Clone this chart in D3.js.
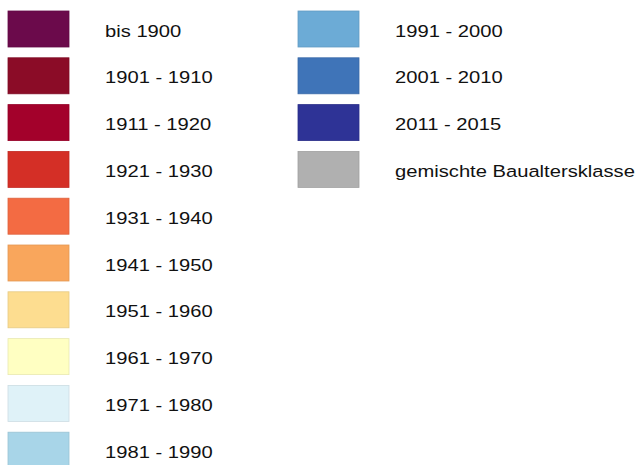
<!DOCTYPE html>
<html>
<head>
<meta charset="utf-8">
<script src="https://cdn.jsdelivr.net/npm/d3@7"></script>
<style>
  html, body { margin: 0; padding: 0; background: #fff; }
  svg { display: block; }
  .lbl { font-family: Arial, "Liberation Sans", sans-serif; font-size: 17.4px; fill: #111; }
</style>
</head>
<body>
<svg id="main-svg" width="644" height="465"></svg>
<script>
// legend classes, in reading order (left column first, then right column)
const labels = [
    "bis 1900", "1901 - 1910", "1911 - 1920", "1921 - 1930", "1931 - 1940",
    "1941 - 1950", "1951 - 1960", "1961 - 1970", "1971 - 1980", "1981 - 1990",
    "1991 - 2000", "2001 - 2010", "2011 - 2015", "gemischte Baualtersklasse"
];
const colors = [
    "#6b0a4b", "#8b0c27", "#a3012b", "#d42f26", "#f36b43",
    "#f9a65c", "#fddd90", "#ffffc2", "#dff2f8", "#a8d5e8",
    "#6cabd6", "#3f74b8", "#2e3396", "#b0b0b0"
];
const rowsPerColumn = 10;

const svg = d3.select("#main-svg");

const items = labels.map((label, i) => ({
    label,
    color: colors[i],
    col: Math.floor(i / rowsPerColumn),
    row: i % rowsPerColumn
}));

const x = d3.scaleLinear().domain([0, 1]).range([8, 298]);
const y = d3.scaleLinear().domain([0, 1]).range([11, 57.8]);
const colorScale = d3.scaleOrdinal().domain(labels).range(colors);

const swatchW = 61, swatchH = 36;

const groups = svg.selectAll(".item")
    .data(items)
    .enter()
    .append("g")
    .attr("class", "item")
    .attr("transform", d => `translate(${x(d.col)}, ${y(d.row)})`);

groups.append("rect")
    .attr("width", swatchW)
    .attr("height", swatchH)
    .attr("fill", d => colorScale(d.label))
    .attr("stroke", d => d3.color(colorScale(d.label)).darker(0.25))
    .attr("stroke-width", 0.8);

// text in the source is a bit wider than plain Arial, so stretch it
groups.append("text")
    .attr("class", "lbl")
    .attr("transform", "translate(97, 25.5) scale(1.16, 1)")
    .text(d => d.label);
</script>
</body>
</html>
